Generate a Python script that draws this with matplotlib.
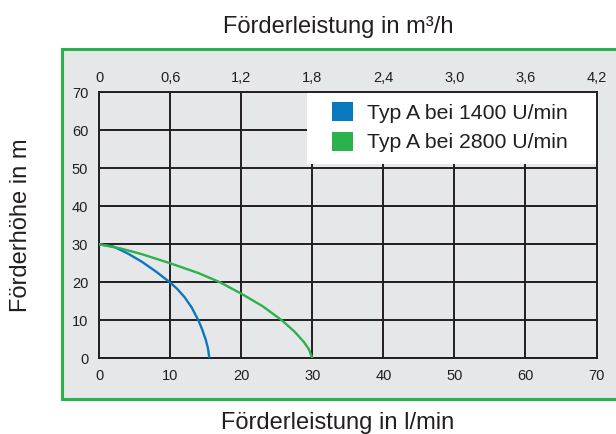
import matplotlib
matplotlib.use("Agg")
import matplotlib.pyplot as plt
from matplotlib.patches import Rectangle, Patch

plt.rcParams['font.family'] = ['Liberation Sans', 'DejaVu Sans']

# Data
q_1400 = [0, 2, 4, 6, 8, 10, 11, 12, 13, 14, 14.5, 15, 15.3, 15.5]
h_1400 = [30, 29.4, 27.6, 25.4, 22.8, 19.9, 18.2, 16.1, 13.4, 9.8, 7.5, 4.8, 2.6, 0]
q_2800 = [0, 3, 6, 10, 14, 17, 20, 23, 25.7, 27.5, 28.8, 29.5, 30]
h_2800 = [30, 28.9, 27.4, 25, 22.4, 20, 17, 13.7, 10, 7, 4.3, 2.4, 0]
series_labels = ["Typ A bei 1400 U/min", "Typ A bei 2800 U/min"]
x_ticks = [0, 10, 20, 30, 40, 50, 60, 70]
y_ticks = [0, 10, 20, 30, 40, 50, 60, 70]
top_ticks = [0, 0.6, 1.2, 1.8, 2.4, 3.0, 3.6, 4.2]
top_labels = ["0", "0,6", "1,2", "1,8", "2,4", "3,0", "3,6", "4,2"]

BLUE = "#0a78bd"
GREEN = "#2bb24c"
DARK = "#231f20"
PANEL = "#e6e7e8"

W, H = 616, 434
fig = plt.figure(figsize=(W / 100, H / 100), dpi=100)
fig.patch.set_facecolor("white")

# Panel
panel = Rectangle((61.7 / W, 35 / H), 1.05 - 61.7 / W, (399 - 49) / H,
                  transform=fig.transFigure, facecolor=PANEL,
                  edgecolor=GREEN, linewidth=2.2, zorder=-5)
fig.add_artist(panel)

x0, x1 = 99.3, 596.5
ytop, ybot = 92.3, 358.3
ax = fig.add_axes([x0 / W, (H - ybot) / H, (x1 - x0) / W, (ybot - ytop) / H])
ax.set_facecolor(PANEL)
ax.set_xlim(0, 70)
ax.set_ylim(0, 70)
ax.set_xticks(x_ticks)
ax.set_yticks(y_ticks)
ax.set_axisbelow(True)
ax.grid(True, color=DARK, linewidth=1.4)
for s in ax.spines.values():
    s.set_color(DARK)
    s.set_linewidth(1.4)
ax.tick_params(axis='both', length=0, labelsize=10.5, colors=DARK)
ax.tick_params(axis='x', pad=8)
ax.tick_params(axis='y', pad=8)

ax.plot(q_1400, h_1400, color=BLUE, linewidth=1.7, zorder=3)
ax.plot(q_2800, h_2800, color=GREEN, linewidth=1.7, zorder=3)

sec = ax.secondary_xaxis('top', functions=(lambda q: q * 0.06, lambda m: m / 0.06))
sec.set_xticks(top_ticks)
sec.set_xticklabels(top_labels)
sec.tick_params(length=0, labelsize=10.5, colors=DARK, pad=5)
sec.spines['top'].set_visible(False)

# legend background
lx0 = (307 - x0) / (x1 - x0)
ly0 = (ybot - 164) / (ybot - ytop)
ax.add_patch(Rectangle((lx0, ly0), 1 - lx0, 1 - ly0, transform=ax.transAxes,
                       facecolor="white", edgecolor="none", zorder=1.5))

handles = [Patch(facecolor=BLUE, edgecolor="none"), Patch(facecolor=GREEN, edgecolor="none")]
leg = ax.legend(handles, series_labels, loc="upper left",
                bbox_to_anchor=((332 - x0) / (x1 - x0), (ybot - 102) / (ybot - ytop)),
                frameon=False, fontsize=15.3, borderpad=0, borderaxespad=0,
                handlelength=1.0, handleheight=1.0, handletextpad=0.65,
                labelspacing=0.42)
for t in leg.get_texts():
    t.set_color(DARK)
leg.set_zorder(5)

fig.text(338.5 / W, 1 - 32.5 / H, "Förderleistung in m³/h", ha="center", va="baseline",
         fontsize=17, color=DARK)
fig.text(338 / W, 1 - 428.5 / H, "Förderleistung in l/min", ha="center", va="baseline",
         fontsize=17, color=DARK)
fig.text(21 / W, 1 - 225 / H, "Förderhöhe in m", ha="center", va="center",
         rotation=90, fontsize=17, color=DARK)

fig.savefig("out.png", dpi=100)
